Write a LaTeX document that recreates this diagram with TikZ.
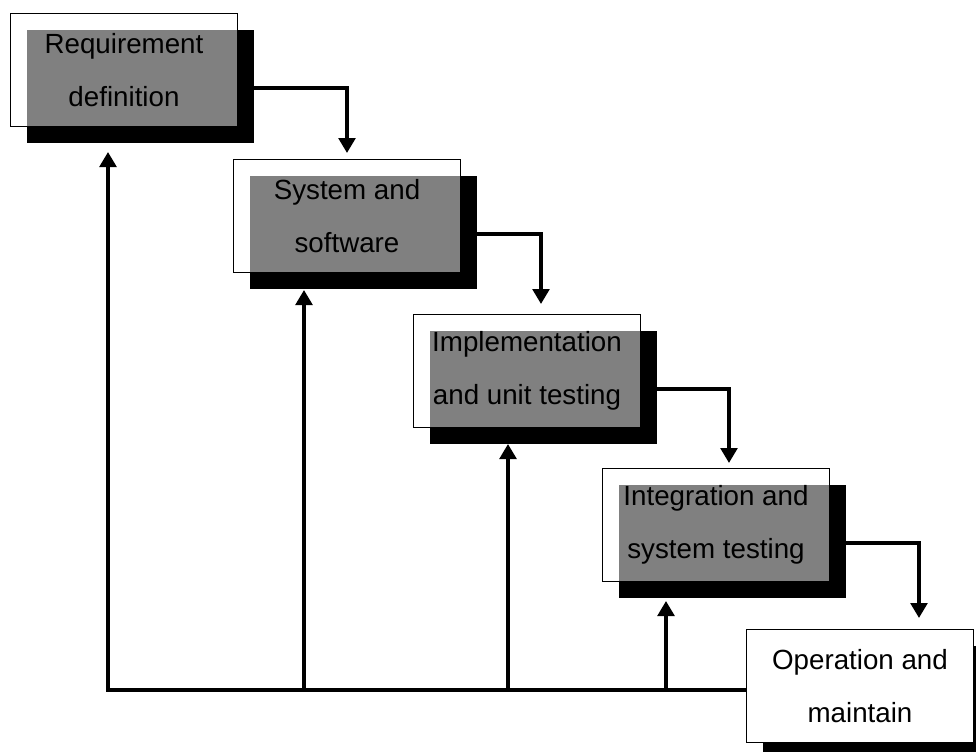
\documentclass[tikz,border=0pt]{standalone}
\usepackage{fontspec}
\setmainfont{Liberation Sans}
\usetikzlibrary{arrows.meta,calc,shadows}

\tikzset{
  phase/.style={draw, line width=0.75pt, fill=white, fill opacity=0.5, text opacity=1,
    minimum width=170.25pt, minimum height=84.75pt, inner sep=0pt, anchor=north west,
    align=center, font=\fontsize{20.8}{39.75}\selectfont,
    drop shadow={shadow xshift=12pt, shadow yshift=-12pt, fill=black, opacity=1}},
  lastphase/.style={phase, fill opacity=1},
  flow/.style={line width=2.6pt, -{Triangle[width=12.5pt,length=11.25pt]}},
  back/.style={flow}
}

\begin{document}
\begin{tikzpicture}[x=0.75pt, y=-0.75pt]
    \useasboundingbox (0,0) rectangle (976,751);
    \clip (0,0) rectangle (976,751);
    \node[phase]     (req)  at ( 10, 13) {Requirement\\definition};
    \node[phase]     (sys)  at (233,159) {System and\\software};
    \node[phase]     (impl) at (413,314) {Implementation\\and unit testing};
    \node[phase]     (integ) at (602,468) {Integration and\\system testing};
    \node[lastphase] (oper) at (746,629) {Operation and\\maintain};
    \coordinate (loop) at (108,690);
    \draw[flow] ($(req.east)+(16,18)$)   -| ($(sys.north west)+(114,-6)$);
    \draw[flow] ($(sys.east)+(16,18)$)   -| ($(impl.north west)+(128,-10)$);
    \draw[flow] ($(impl.east)+(16,18)$)  -| ($(integ.north west)+(127,-5)$);
    \draw[flow] ($(integ.east)+(16,18)$) -| ($(oper.north west)+(173,-11)$);
    \draw[back] (oper.west |- loop) -- (loop) -- ($(req.south west)+(98,25)$);
    \draw[back] (loop -| sys.south west) ++(71,0) -- ($(sys.south west)+(71,17)$);
    \draw[back] (loop -| impl.south west) ++(95,0) -- ($(impl.south west)+(95,16)$);
    \draw[back] (loop -| integ.south west) ++(64,0) -- ($(integ.south west)+(64,19)$);
  \end{tikzpicture}
\end{document}
